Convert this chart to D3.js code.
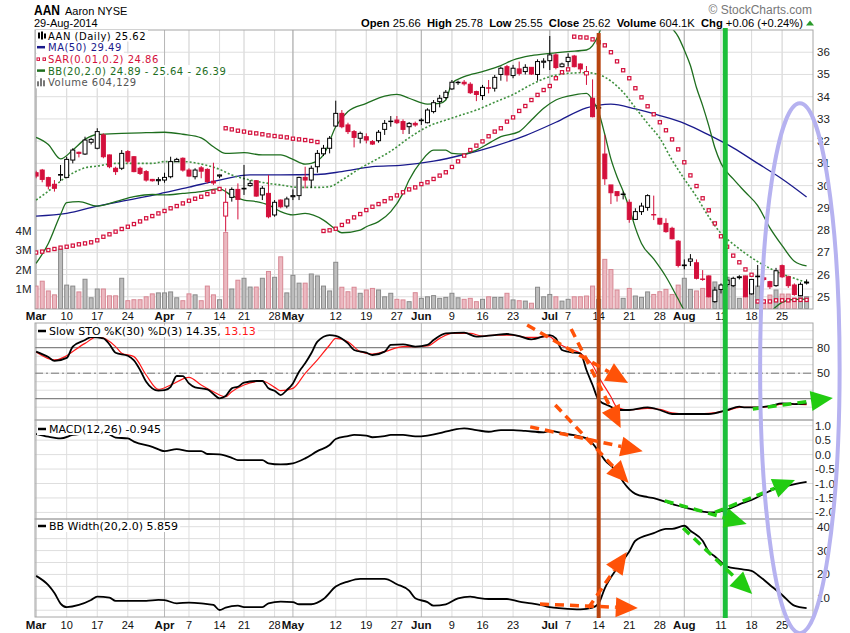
<!DOCTYPE html>
<html>
<head>
<meta charset="utf-8">
<script src="https://cdn.jsdelivr.net/npm/d3@7"></script>
<style>
body { margin: 0; background: #fff; }
svg { display: block; font-family: "Liberation Sans", Arial, sans-serif; }
.lg { font-family: "DejaVu Sans", sans-serif; font-size: 11px; }
.lgm { font-family: "DejaVu Sans", sans-serif; font-size: 10px; letter-spacing: 0.5px; }
</style>
</head>
<body>
<svg id="chart" width="850" height="633"></svg>
<script>
// ---- daily prices, AAN, 3-Mar-2014 .. 29-Aug-2014 (trading day index 0..126)
const opens = [30.58,30.70,30.36,30.06,30.47,30.37,31.15,31.50,31.42,31.95, 31.68,32.28,31.38,30.78,30.78,31.53,31.30,30.78,30.63,30.28,
  30.22,30.25,30.40,31.08,31.23,30.70,30.40,30.80,30.73,30.20, 30.43,28.63,29.47,29.83,29.85,30.00,30.22,29.58,29.65,28.68,
  29.35,29.08,29.50,29.55,30.37,30.25,30.85,31.43,31.68,32.68, 33.25,32.73,32.43,32.13,32.20,31.98,32.02,32.53,32.88,32.95,
  32.88,32.65,32.80,32.92,32.83,33.33,33.78,33.96,34.35,34.63, 34.65,34.56,34.23,34.05,34.40,34.38,35.00,35.35,34.95,35.25,
  35.13,35.32,35.00,35.55,35.62,35.88,35.35,35.58,35.83,35.47, 34.98,33.93,33.48,31.42,30.03,29.73,29.60,29.25,28.48,28.83,
  29.02,28.70,28.53,28.30,28.08,27.50,26.40,26.60,26.53,25.80, 25.93,24.78,25.33,25.55,25.50,25.86,25.93,25.13,25.90,25.85,
  25.68,25.50,26.40,25.90,25.53,25.05,25.66];
const highs = [30.67,30.75,30.40,30.25,30.93,31.30,31.68,31.53,32.20,32.15, 32.58,32.35,31.40,30.85,31.60,31.60,31.33,30.85,30.70,30.30,
  30.38,30.58,31.30,31.25,31.27,30.78,30.78,30.88,30.78,31.03, 30.50,29.88,29.92,30.10,30.93,30.25,30.25,29.98,30.48,29.35,
  29.38,29.50,29.83,30.40,30.85,30.90,31.60,31.83,32.23,33.82, 33.40,32.83,32.50,32.43,32.35,32.05,32.50,32.95,33.13,33.13,
  32.98,32.86,32.88,33.03,33.48,33.85,34.08,34.30,34.75,34.72, 34.75,34.65,34.27,34.53,34.75,34.98,35.35,35.43,35.43,35.58,
  35.46,35.33,35.68,35.73,36.73,35.95,35.53,35.95,35.88,35.50, 35.38,34.78,33.80,32.28,30.03,29.73,29.73,29.38,28.98,29.23,
  29.61,29.55,28.53,28.53,28.15,27.55,26.68,26.92,26.68,26.20, 25.96,25.45,25.60,25.90,25.90,25.97,25.95,25.80,26.43,25.90,
  25.72,26.30,26.45,25.95,25.60,25.65,25.78];
const lows = [30.33,30.15,29.83,29.73,30.20,30.33,31.00,31.27,31.38,31.85, 31.63,31.23,30.78,30.48,30.70,31.00,30.60,30.48,30.18,30.18,
  30.03,30.13,30.33,31.05,30.63,30.40,30.28,30.33,30.10,30.03, 30.33,27.93,29.28,28.48,29.58,29.95,29.50,29.35,28.53,28.60,
  28.98,28.98,29.35,29.35,29.88,29.90,30.58,31.33,31.45,32.65, 32.58,32.32,31.72,31.90,31.90,31.83,31.93,32.28,32.65,32.77,
  32.32,32.32,32.65,32.73,32.80,33.25,33.52,33.88,34.30,34.53, 34.50,34.12,33.80,33.85,34.15,34.23,34.72,34.68,34.83,34.95,
  35.00,34.98,34.72,35.28,35.20,35.23,35.32,35.35,35.32,35.08, 34.53,33.07,33.33,30.03,29.17,29.28,29.38,28.33,28.45,28.68,
  28.87,28.45,28.23,27.88,27.58,26.32,26.23,26.38,25.78,25.72, 24.97,24.73,25.15,25.45,25.45,25.78,24.98,25.10,25.45,25.70,
  25.35,25.45,25.85,25.40,25.05,25.03,25.55];
const closes = [30.43,30.28,29.98,29.88,30.50,31.18,31.60,31.45,32.05,32.08, 32.43,31.30,30.85,30.63,31.45,31.10,30.63,30.55,30.25,30.22,
  30.27,30.37,31.08,31.18,30.70,30.43,30.70,30.65,30.18,30.12, 30.48,29.25,29.83,29.38,29.88,30.10,29.53,29.88,28.60,29.25,
  29.05,29.40,29.55,30.37,30.25,30.78,31.45,31.68,32.13,33.25, 32.65,32.43,32.17,32.35,32.05,31.87,32.40,32.80,32.90,32.83,
  32.53,32.80,32.73,32.95,33.40,33.73,33.93,34.20,34.65,34.65, 34.58,34.18,34.10,34.42,34.38,34.87,35.28,34.98,35.28,35.05,
  35.32,35.02,35.58,35.60,35.88,35.31,35.47,35.77,35.35,35.25, 35.13,33.10,33.52,30.31,29.68,29.55,29.62,28.48,28.83,29.08,
  29.55,28.68,28.27,27.93,27.61,26.41,26.43,26.70,25.83,25.78, 25.00,25.30,25.53,25.75,25.83,25.90,25.00,25.78,25.93,25.78,
  25.45,26.17,25.90,25.50,25.10,25.56,25.62];
const priorClose = 30.6;
// volume in millions of shares
const volumes = [1.15,1.4,0.9,0.7,3.05,1.2,1.15,0.85,1.5,0.55, 1.0,1.0,0.65,0.65,1.55,0.4,0.45,0.45,0.6,0.75,
  0.8,0.8,0.85,0.55,0.4,0.75,0.7,0.4,1.15,0.7, 0.45,3.9,1.0,1.45,1.55,1.1,1.1,1.55,1.9,1.6,
  2.65,0.8,1.7,1.3,1.3,1.77,1.67,1.15,0.9,2.37, 1.09,0.86,1.09,0.78,0.95,1.03,0.95,0.6,0.78,0.47,
  0.44,0.35,0.81,0.52,0.6,0.66,0.52,0.57,0.78,0.55, 0.47,0.52,0.35,0.47,0.6,0.57,0.57,0.78,0.44,0.4,
  0.38,0.27,1.09,0.6,0.72,0.6,0.38,0.47,0.6,0.6, 0.64,1.15,0.47,2.52,2.0,0.95,0.52,1.03,0.64,0.57,
  0.85,0.72,0.86,0.98,0.72,1.2,1.55,0.98,0.9,1.03, 1.67,1.36,1.12,1.6,1.12,0.52,1.67,0.78,1.15,0.26,
  0.69,0.95,0.74,0.74,0.52,0.6,0.604];
// Parabolic SAR, one dot per day
const sar = [26.99,27.03,27.10,27.15,27.21,27.25,27.30,27.36,27.40,27.45, 27.54,27.70,27.81,27.93,28.05,28.15,28.27,28.39,28.53,28.63,
  28.75,28.86,28.98,29.08,29.20,29.32,29.41,29.50,29.62,29.73, 29.85,32.58,32.53,32.47,32.43,32.38,32.35,32.31,32.26,32.23,
  32.20,32.17,32.11,32.08,32.05,32.01,31.96,27.96,27.99,28.06, 28.23,28.39,28.57,28.72,28.90,29.05,29.17,29.30,29.43,29.56,
  29.70,29.83,29.92,30.07,30.15,30.30,30.45,30.60,30.84,31.09, 31.35,31.60,31.80,31.99,32.22,32.43,32.58,32.88,33.07,33.36,
  33.58,33.85,34.08,34.30,34.48,34.83,35.10,35.23,36.70,36.67, 36.66,36.58,36.45,36.31,36.00,35.59,35.19,34.83,34.38,33.97,
  33.57,33.21,32.85,32.49,32.08,31.63,31.05,30.46,29.98,29.43, 28.89,28.30,27.72,27.25,26.85,26.55,26.23,25.99,24.79,24.79,
  24.79,24.84,24.84,24.84,24.86,24.86,24.86];
// MA(50), read at sampled days
const maIdx = [0,5,10,15,20,25,30,35,40,46,50,55,60,65,70,75,80,85,90,94,98,102,106,110,114,118,122,126];
const maVal = [28.63,28.75,29.08,29.35,29.62,29.93,30.25,30.48,30.48,30.50,30.63,30.85,30.92,31.10,31.40,31.78,32.25,32.85,33.50,33.67,33.45,33.15,32.80,32.28,31.70,31.00,30.30,29.49];
// Bollinger bands
const bbUpIdx = [0,2,4,6,8,10,14,18,21,24,27,29,31,34,37,40,42,44,45,47,49,51,54,57,59,61,64,66,67,68,70,73,76,78,81,84,87,90,91,92,93,95,98,101,103,105,106,107,108,109,110,111,112,114,116,118,120,122,124,126];
const bbUp = [32.17,31.85,31.2,31.6,32.08,32.3,32.35,32.38,32.4,32.31,32.15,31.75,31.45,31.48,31.38,31.38,31.18,30.97,31.0,31.38,32.65,33.33,33.7,34.03,34.1,33.93,33.67,33.7,33.85,34.6,34.9,35.13,35.4,35.65,35.85,35.95,36.03,36.1,36.3,36.8,37.6,38.3,39.0,38.5,37.4,36.7,36.1,35.4,34.4,33.6,32.7,31.7,31.0,30.3,29.7,29.1,28.1,27.3,26.6,26.39];
const bbMidIdx = [0,2,5,8,10,13,16,19,21,24,27,30,32,35,38,40,43,46,48,50,53,56,58,61,64,67,69,72,75,78,81,84,87,90,92,94,96,98,100,102,104,106,108,110,112,114,116,118,120,122,124,126];
const bbMid = [29.35,29.75,30.4,30.8,30.88,31.0,31.0,31.0,31.08,31.08,30.97,30.73,30.48,30.25,30.1,30.03,29.92,29.92,29.95,30.25,30.78,31.23,31.55,32.15,32.65,32.95,33.13,33.4,33.75,34.1,34.55,34.9,35.05,35.08,35.0,34.7,34.2,33.5,32.8,32.13,31.15,30.3,29.5,28.6,27.85,27.37,26.95,26.58,26.28,26.02,25.83,25.64];
const bbLowIdx = [0,2,4,5,7,10,13,16,19,21,24,27,30,32,34,36,38,40,42,44,47,49,50,53,54,56,58,60,61,63,65,67,68,70,72,74,76,79,81,83,85,88,90,91,92,93,94,95,96,97,98,99,101,103,105,106,108,110,112,114,116,118,120,121,122,124,126];
const bbLow = [26.5,27.4,28.7,29.23,29.28,29.08,29.28,29.5,29.6,29.58,29.65,29.73,29.85,29.55,29.35,29.28,29.13,28.83,28.68,28.75,28.45,28.03,27.88,28.0,28.15,28.38,28.83,29.65,30.25,31.1,31.6,31.6,31.45,31.42,31.6,31.9,32.2,32.43,32.95,33.48,33.85,34.08,34.15,33.85,33.3,32.3,31.2,30.4,29.75,29.0,28.1,27.4,26.7,25.9,24.9,24.4,24.1,24.0,24.1,24.2,24.2,24.1,24.3,24.55,24.75,24.88,24.89];
// Slow stochastics
const stoKIdx = [0,2,3,5,6,8,9,11,12,13,15,16,17,18,20,21,22,23,24,25,26,28,29,30,31,32,33,34,36,37,38,39,40,41,42,43,44,45,46,48,49,51,52,54,55,57,58,60,62,64,65,67,70,72,75,77,79,81,84,85,86,88,89,90,91,92,94,95,97,100,102,104,107,110,113,115,116,118,120,122,124,126];
const stoK = [75.4,69,64.4,68,81.3,89,92.5,91,84,74,70.5,65,53.8,40,29.5,30,34,46.7,46.5,38,33.3,31,25.5,20.4,23.1,32.2,34.1,38.8,40.8,40.8,32.2,29.4,24.3,30.2,38,51.8,61.6,73.4,87.1,94.9,94,85.1,77.3,74.1,71.4,75.4,83.2,84,81.3,83.2,89,96.9,97.7,93,94.9,96.1,93.7,89.8,94.9,91,77.3,74.1,73.4,53.8,36.1,18.4,10.6,6.7,6.7,9.8,6.7,2.0,2.0,2.0,6.7,10.6,9.8,9.8,11.4,14.5,13.7,14.35];
const stoDIdx = [0,3,8,10,13,14,16,18,20,22,25,27,29,31,32,34,37,39,40,42,44,46,48,49,51,53,55,57,60,62,64,66,68,71,73,75,78,80,82,84,85,87,89,91,92,94,95,97,100,102,104,107,110,113,115,117,120,122,126];
const stoD = [75,65.6,85.1,93,81.3,73.4,69.5,47.9,31,36.1,45.1,36.1,28.2,22.3,28.2,36.1,40.8,33.3,29.4,32.2,49.8,65.6,83.2,91,87.1,75.4,72.6,75.4,81.3,81.3,82,91,96.9,96.9,93.7,94.9,94.9,92.2,92.2,93,87.1,79.3,73.4,59.6,45.9,22.3,9.8,6.7,8.6,7.5,3.5,2.0,2.7,5.9,9.8,9.8,10.6,13.7,13.13];
// MACD(12,26)
const macdIdx = [0,2,4,6,8,10,12,13,15,16,19,21,23,25,27,28,30,32,33,35,37,38,40,42,44,46,48,49,51,52,54,55,57,58,60,62,64,66,68,70,72,74,76,78,80,83,84,86,88,90,91,92,93,95,96,98,100,101,103,105,107,109,111,113,115,117,119,121,123,126];
const macdVal = [0.72,0.62,0.56,0.68,0.74,0.85,0.7,0.59,0.56,0.45,0.27,0.12,0.19,0.12,0.12,0.02,0.01,-0.11,-0.19,-0.19,-0.19,-0.3,-0.34,-0.3,-0.13,0.12,0.33,0.54,0.64,0.68,0.66,0.6,0.64,0.68,0.68,0.63,0.66,0.74,0.85,0.91,0.85,0.79,0.85,0.85,0.82,0.77,0.82,0.74,0.67,0.56,0.39,0.1,-0.19,-0.6,-0.94,-1.36,-1.47,-1.51,-1.64,-1.77,-1.88,-1.97,-2.0,-1.9,-1.72,-1.57,-1.36,-1.17,-1.07,-0.945];
// BB Width(20,2.0)
const bbwIdx = [0,2,3,4,5,7,9,10,12,13,16,18,20,21,23,25,27,29,30,31,33,34,37,38,40,42,43,45,47,49,51,53,57,59,61,62,64,65,67,69,71,72,74,77,79,81,83,84,86,89,91,92,93,95,97,98,101,103,104,106,107,109,110,111,113,115,117,118,120,122,124,126];
const bbwVal = [19.4,15.5,12.2,7.8,6.3,7.2,9.3,10.7,10.3,8.9,8.9,8.9,9.3,9.2,7.9,8.2,7.9,7.2,5.1,6.1,6.9,6.3,6.3,7.9,8.6,8.4,7.5,7.5,9.7,14.9,17,18.1,18.1,15.9,13.2,10,8.4,6.9,7.5,10,10.7,10.3,9.7,9.7,8.6,7.9,6.9,6.3,5.8,5.4,6.1,7.9,14.2,22.6,29.6,34.1,37.3,39.1,39.1,40.4,38.3,34.1,29.6,27.5,23.3,22.3,21.5,19.8,15.6,11.4,6.9,5.86];

// ---- axis labels
const tickIdx = [0,5,10,15,21,25,30,34,39,42,49,54,59,63,68,73,78,84,87,92,97,102,106,112,117,122];
const tickText = ["Mar","10","17","24","Apr","7","14","21","28","May","12","19","27","Jun","9","16","23","Jul","7","14","21","28","Aug","11","18","25"];
const priceTicks = [25,26,27,28,29,30,31,32,33,34,35,36];
const volTicks = [1,2,3,4];
const stoGrid = [10,20,30,40,50,60,70,80,90,100];
const macdTicks = [1.0,0.5,0.0,-0.5,-1.0,-1.5,-2.0];
const bbwGrid = [5,10,15,20,25,30,35,40];
const bbwTicks = [40,30,20,10];

// ---- hand-drawn annotations: [day, panel, value]
const markerDays = [92, 112.7];
const arrowOrange = [
  [[80.3,"sto",106.7],[96.8,"sto",38.5]],
  [[87.5,"sto",102],[95.6,"macd",0.92]],
  [[80.8,"macd",0.96],[99.2,"macd",0.12]],
  [[84.9,"sto",12.6],[96.9,"macd",-0.98]],
  [[82.4,"bbw",7.6],[98.4,"bbw",5.9]],
  [[90.3,"bbw",5.9],[96.6,"bbw",29.4]]
];
const arrowGreen = [
  [[117.2,"sto",7.9],[130.3,"sto",20.8]],
  [[102.8,"macd",-1.6],[116.2,"macd",-2.4]],
  [[111,"macd",-2.0],[124.1,"macd",-0.88]],
  [[105.8,"bbw",39.5],[117.1,"bbw",11.8]]
];
const ringDay = 124.9, ringHalfDays = 6.5, ringTopPrice = 33.7, ringBottomBbw = -4.6;

// ---- layout
const svg = d3.select("#chart");
const L = 35, R = 813;
const P = {
  main: { top: 30, bottom: 309 },
  sto: { top: 323, bottom: 420 },
  macd: { top: 420, bottom: 519 },
  bbw: { top: 519, bottom: 617 }
};
const days = d3.range(closes.length);
const x = d3.scaleLinear().domain([0, closes.length - 1]).range([36.1, 806.6]);
const yP = d3.scaleLinear().domain([24.45, 37.0]).range([309, 30]);
const yV = d3.scaleLinear().domain([0, 4]).range([308.5, 230.5]);
const yS = d3.scaleLinear().domain([0, 100]).range([415.7, 330.7]);
const yM = d3.scaleLinear().domain([-2, 1]).range([512.4, 425.7]);
const yB = d3.scaleLinear().domain([10, 40]).range([598.3, 526.7]);

const RED = "#d4103c", NAVY = "#1a1a8c", DKGREEN = "#1e6e1e";
const GRID = "#dedede", MONTH = "#b8b8b8";

const defs = svg.append("defs");
Object.entries(P).forEach(([k, p]) => {
  defs.append("clipPath").attr("id", "clip-" + k)
    .append("rect").attr("x", L).attr("y", p.top).attr("width", R - L).attr("height", p.bottom - p.top);
});

// grid per panel
function grid(p, yScale, values) {
  const g = svg.append("g");
  g.selectAll("line.h").data(values).join("line")
    .attr("x1", L).attr("x2", R)
    .attr("y1", d => yScale(d)).attr("y2", d => yScale(d))
    .attr("stroke", GRID).attr("stroke-width", 1);
  g.selectAll("line.v").data(tickIdx).join("line")
    .attr("x1", d => x(d)).attr("x2", d => x(d))
    .attr("y1", p.top).attr("y2", p.bottom)
    .attr("stroke", (d, k) => isNaN(+tickText[k]) ? MONTH : GRID).attr("stroke-width", 1);
  return g;
}
grid(P.main, yP, priceTicks);
grid(P.main, yV, volTicks);
grid(P.sto, yS, stoGrid);
grid(P.macd, yM, macdTicks);
grid(P.bbw, yB, bbwGrid);

// STO reference lines
const stoRef = svg.append("g");
[80, 20].forEach(v => stoRef.append("line").attr("x1", L).attr("x2", R).attr("y1", yS(v)).attr("y2", yS(v))
  .attr("stroke", "#6e6e6e").attr("stroke-width", 1));
stoRef.append("line").attr("x1", L).attr("x2", R).attr("y1", yS(50)).attr("y2", yS(50))
  .attr("stroke", "#777").attr("stroke-dasharray", "8,3,2,3");

// ---- main panel
const gMain = svg.append("g").attr("clip-path", "url(#clip-main)");
const isUp = i => closes[i] >= (i ? closes[i - 1] : priorClose);

gMain.selectAll("rect.vol").data(days).join("rect")
  .attr("x", i => x(i) - 2).attr("width", 4)
  .attr("y", i => yV(volumes[i])).attr("height", i => yV(0) - yV(volumes[i]))
  .attr("fill", i => isUp(i) ? "#bdbdbd" : "#ebb9c1")
  .attr("stroke", i => isUp(i) ? "#8a8a8a" : "#d88894").attr("stroke-width", 1);

function pathOf(idx, vals, yScale) {
  return d3.line().x((d, k) => x(idx[k])).y(d => yScale(d)).curve(d3.curveMonotoneX)(vals);
}
gMain.append("path").attr("d", pathOf(maIdx, maVal, yP)).attr("fill", "none").attr("stroke", NAVY).attr("stroke-width", 1.3);
gMain.append("path").attr("d", pathOf(bbUpIdx, bbUp, yP)).attr("fill", "none").attr("stroke", DKGREEN).attr("stroke-width", 1.3);
gMain.append("path").attr("d", pathOf(bbLowIdx, bbLow, yP)).attr("fill", "none").attr("stroke", DKGREEN).attr("stroke-width", 1.3);
gMain.append("path").attr("d", pathOf(bbMidIdx, bbMid, yP)).attr("fill", "none").attr("stroke", "#3f913f")
  .attr("stroke-width", 1.6).attr("stroke-dasharray", "2,2");

gMain.selectAll("rect.sar").data(days).join("rect")
  .attr("x", i => x(i) - 1.6).attr("y", i => yP(sar[i]) - 1.6).attr("width", 3.2).attr("height", 3.2)
  .attr("fill", "#fff").attr("stroke", RED).attr("stroke-width", 1.2);

const candles = gMain.selectAll("g.c").data(days).join("g");
candles.append("line")
  .attr("x1", i => x(i)).attr("x2", i => x(i))
  .attr("y1", i => yP(highs[i])).attr("y2", i => yP(lows[i]))
  .attr("stroke", i => isUp(i) ? "#000" : RED).attr("stroke-width", 1);
candles.append("rect")
  .attr("x", i => x(i) - 2).attr("width", 4)
  .attr("y", i => yP(Math.max(opens[i], closes[i])))
  .attr("height", i => Math.max(0.4, Math.abs(yP(opens[i]) - yP(closes[i]))))
  .attr("fill", i => closes[i] < opens[i] ? (isUp(i) ? "#000" : RED) : "#fff")
  .attr("stroke", i => isUp(i) ? "#000" : RED).attr("stroke-width", 1);

// ---- indicator panels
svg.append("g").attr("clip-path", "url(#clip-sto)").call(g => {
  g.append("path").attr("d", pathOf(stoDIdx, stoD, yS)).attr("fill", "none").attr("stroke", "#ff1a1a").attr("stroke-width", 1.2);
  g.append("path").attr("d", pathOf(stoKIdx, stoK, yS)).attr("fill", "none").attr("stroke", "#000").attr("stroke-width", 1.8);
});
svg.append("g").attr("clip-path", "url(#clip-macd)")
  .append("path").attr("d", pathOf(macdIdx, macdVal, yM)).attr("fill", "none").attr("stroke", "#000").attr("stroke-width", 1.8);
svg.append("g").attr("clip-path", "url(#clip-bbw)")
  .append("path").attr("d", pathOf(bbwIdx, bbwVal, yB)).attr("fill", "none").attr("stroke", "#000").attr("stroke-width", 1.8);

// panel frames
Object.values(P).forEach(p => svg.append("rect").attr("x", L).attr("y", p.top)
  .attr("width", R - L).attr("height", p.bottom - p.top).attr("fill", "none").attr("stroke", "#a6a6a6"));

// ---- axes
const axisTxt = svg.append("g").attr("font-size", 11.5).attr("fill", "#222");
axisTxt.selectAll("text.p").data(priceTicks).join("text")
  .attr("x", 817).attr("y", d => yP(d) + 4).text(d => d);
axisTxt.selectAll("text.v").data(volTicks).join("text")
  .attr("x", 31.5).attr("y", d => yV(d) + 4).attr("text-anchor", "end").text(d => d + "M");
axisTxt.selectAll("text.s").data([80, 50]).join("text")
  .attr("x", 817).attr("y", d => yS(d) + 4).text(d => d);
axisTxt.selectAll("text.m").data(macdTicks).join("text")
  .attr("x", 815).attr("y", d => yM(d) + 4).text(d => d3.format(".1f")(d).replace("−", "-"));
axisTxt.selectAll("text.b").data(bbwTicks).join("text")
  .attr("x", 817).attr("y", d => yB(d) + 4).text(d => d);

[320, 629].forEach(by => {
  svg.append("g").selectAll("text").data(tickIdx).join("text")
    .attr("x", d => x(d)).attr("y", by).attr("text-anchor", "middle")
    .attr("font-size", (d, k) => isNaN(+tickText[k]) ? 11.5 : 11)
    .attr("font-weight", (d, k) => isNaN(+tickText[k]) ? "bold" : "normal")
    .attr("fill", "#111")
    .text((d, k) => tickText[k]);
});

// ---- legends
function legendLine(cls, xp, base, parts, icon) {
  const t = svg.append("text").attr("class", cls).attr("x", xp).attr("y", base);
  parts.forEach(([s, c]) => t.append("tspan").attr("fill", c).text(s));
  const bb = t.node().getBBox();
  svg.insert("rect", () => t.node()).attr("x", xp - 12).attr("y", base - 9.5)
    .attr("width", bb.width + 14).attr("height", 11.5).attr("fill", "#fff");
  if (icon) icon(xp, base);
}
const dash = c => (xp, base) => svg.append("line").attr("x1", xp - 11).attr("x2", xp - 3)
  .attr("y1", base - 4).attr("y2", base - 4).attr("stroke", c).attr("stroke-width", 2.5);

legendLine("lgm", 48, 39.5, [["AAN (Daily) 25.62", "#000"]], (xp, base) => {
  [[-10, 6, 1], [-7, 8, 0], [-4, 5, 2]].forEach(([dx, h, o]) =>
    svg.append("rect").attr("x", xp + dx).attr("y", base - 8 + o).attr("width", 2).attr("height", h).attr("fill", "#000"));
});
legendLine("lgm", 48, 51.2, [["MA(50) 29.49", NAVY]], dash(NAVY));
legendLine("lgm", 48, 62.9, [["SAR(0.01,0.2) 24.86", RED]], (xp, base) => {
  [-11, -5].forEach(dx => svg.append("rect").attr("x", xp + dx).attr("y", base - 5).attr("width", 2.5).attr("height", 2.5)
    .attr("fill", "#fff").attr("stroke", RED));
});
legendLine("lgm", 48, 74.6, [["BB(20,2.0) 24.89 - 25.64 - 26.39", DKGREEN]], dash(DKGREEN));
legendLine("lgm", 48, 86.3, [["Volume 604,129", "#555"]], (xp, base) => {
  [[-11, 5], [-8, 8], [-5, 6]].forEach(([dx, h]) =>
    svg.append("rect").attr("x", xp + dx).attr("y", base - h).attr("width", 2).attr("height", h).attr("fill", "#777"));
});
legendLine("lg", 49, 335, [["Slow STO %K(30) %D(3) 14.35, ", "#000"], ["13.13", "#ff1a1a"]], dash("#000"));
legendLine("lg", 49, 433, [["MACD(12,26) -0.945", "#000"]], dash("#000"));
legendLine("lg", 49, 530, [["BB Width(20,2.0) 5.859", "#000"]], dash("#000"));

// ---- header
svg.append("text").attr("x", 34).attr("y", 15).attr("font-size", 14).attr("font-weight", "bold")
  .attr("textLength", 26).attr("lengthAdjust", "spacingAndGlyphs").text("AAN");
svg.append("text").attr("x", 65).attr("y", 15).attr("font-size", 11).text("Aaron NYSE");
svg.append("text").attr("x", 34).attr("y", 27).attr("font-size", 11).text("29-Aug-2014");
svg.append("text").attr("x", 812).attr("y", 14).attr("text-anchor", "end").attr("font-size", 12)
  .attr("fill", "#777").text("\u00A9 StockCharts.com");
const hdr = svg.append("text").attr("x", 803).attr("y", 27).attr("text-anchor", "end").attr("font-size", 11.2);
[["Open", " 25.66  "], ["High", " 25.78  "], ["Low", " 25.55  "], ["Close", " 25.62  "],
 ["Volume", " 604.1K  "], ["Chg", " +0.06 (+0.24%)"]].forEach(([a, b]) => {
  hdr.append("tspan").attr("font-weight", "bold").text(a);
  hdr.append("tspan").attr("xml:space", "preserve").style("white-space", "pre").text(b);
});
svg.append("path").attr("d", "M806,25.5 L810,20.5 L814,25.5 Z").attr("fill", "#2a9a2a");

// ---- annotations
const panelY = { sto: yS, macd: yM, bbw: yB, price: yP };
const pt = p => [x(p[0]), panelY[p[1]](p[2])];
const ann = svg.append("g");
ann.append("line").attr("x1", x(markerDays[0])).attr("x2", x(markerDays[0])).attr("y1", 33).attr("y2", 618)
  .attr("stroke", "#b8440f").attr("stroke-width", 4);
ann.append("line").attr("x1", x(markerDays[1])).attr("x2", x(markerDays[1])).attr("y1", 28).attr("y2", 618)
  .attr("stroke", "#1cbf3a").attr("stroke-width", 5);

function arrow(a, b, col) {
  const [x1, y1] = pt(a), [x2, y2] = pt(b);
  const ang = Math.atan2(y2 - y1, x2 - x1), hl = 22, hw = 10;
  const bx = x2 - hl * Math.cos(ang), by = y2 - hl * Math.sin(ang);
  ann.append("line").attr("x1", x1).attr("y1", y1).attr("x2", bx).attr("y2", by)
    .attr("stroke", col).attr("stroke-width", 3.5).attr("stroke-dasharray", "9,6");
  ann.append("polygon").attr("fill", col).attr("points", [
    [x2, y2], [bx + hw * Math.sin(ang), by - hw * Math.cos(ang)], [bx - hw * Math.sin(ang), by + hw * Math.cos(ang)]
  ].map(p => p.join(",")).join(" "));
}
arrowOrange.forEach(([a, b]) => arrow(a, b, "#ff5208"));
arrowGreen.forEach(([a, b]) => arrow(a, b, "#22cc11"));

const rTop = yP(ringTopPrice), rBot = yB(ringBottomBbw);
ann.append("ellipse").attr("cx", x(ringDay)).attr("cy", (rTop + rBot) / 2)
  .attr("rx", x(ringDay + ringHalfDays) - x(ringDay)).attr("ry", (rBot - rTop) / 2)
  .attr("fill", "none").attr("stroke", "#b6b2f0").attr("stroke-width", 4);
</script>
</body>
</html>
